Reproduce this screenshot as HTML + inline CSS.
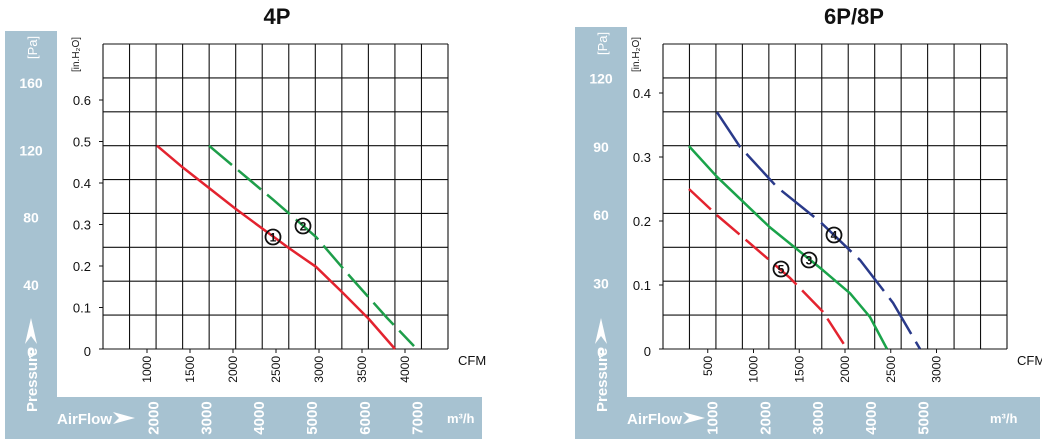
<!DOCTYPE html>
<html><head><meta charset="utf-8"><style>
body{margin:0;background:#fff;width:1042px;height:444px;overflow:hidden}
svg{display:block;font-family:"Liberation Sans",sans-serif}
</style></head><body>
<svg id="c" width="1042" height="444" viewBox="0 0 1042 444"></svg>
<script>
// ---- 4P chart data ----
const p4Curve1Cfm = [1116, 1419, 2035, 2651, 2965, 3279, 3581, 3884];
const p4Curve1In  = [0.49, 0.437, 0.337, 0.243, 0.198, 0.135, 0.072, 0];
const p4Curve2Cfm = [1721, 2465, 2965, 3360, 3791, 4105];
const p4Curve2In  = [0.49, 0.36, 0.27, 0.175, 0.075, 0.007];
const p4InTicks = ["0", "0.1", "0.2", "0.3", "0.4", "0.5", "0.6"];
const p4PaTicks = ["0", "40", "80", "120", "160"];
const p4CfmTicks = ["1000", "1500", "2000", "2500", "3000", "3500", "4000"];
const p4M3hTicks = ["2000", "3000", "4000", "5000", "6000", "7000"];
// ---- 6P/8P chart data ----
const p6Curve4Cfm = [601, 852, 1257, 1727, 2164, 2525, 2820];
const p6Curve4In  = [0.37, 0.316, 0.253, 0.199, 0.139, 0.072, 0];
const p6Curve3Cfm = [295, 601, 1180, 1760, 2055, 2273, 2459];
const p6Curve3In  = [0.317, 0.269, 0.19, 0.123, 0.087, 0.05, 0];
const p6Curve5Cfm = [295, 601, 962, 1399, 1760, 2022];
const p6Curve5In  = [0.25, 0.209, 0.165, 0.111, 0.058, 0];
const p6InTicks = ["0", "0.1", "0.2", "0.3", "0.4"];
const p6PaTicks = ["0", "30", "60", "90", "120"];
const p6CfmTicks = ["500", "1000", "1500", "2000", "2500", "3000"];
const p6M3hTicks = ["1000", "2000", "3000", "4000", "5000"];

const NS = "http://www.w3.org/2000/svg";
const svg = document.getElementById("c");
function mk(tag, attrs, parent, text){
  const e = document.createElementNS(NS, tag);
  for (const k in attrs) e.setAttribute(k, attrs[k]);
  if (text !== undefined) e.textContent = text;
  (parent || svg).appendChild(e);
  return e;
}
const BLUE = "#a7c2d1";

function chart(cfg){
  const g = mk("g", {});
  
  
  const t = mk("text", {x: cfg.titleX, y: 24, "font-size": 22, "font-weight": "bold", "text-anchor": "middle", fill: "#111"}, g, cfg.title);
  
  
  const pl = mk("rect", {x: cfg.panelX, y: cfg.panelTop, width: 52, height: 439 - cfg.panelTop, fill: BLUE}, g);
  
  
  const pb = mk("rect", {x: cfg.panelX, y: 397, width: cfg.bandRight - cfg.panelX, height: 42, fill: BLUE}, g);
  
  
  const L = cfg.boxL, R = cfg.boxR, T = 44, B = 349;
  const grid = mk("g", {stroke: "#111", "stroke-width": 1.1, fill: "none"}, g);
  
  
  for (let i = 0; i <= 13; i++){ const x = L + (R - L) * i / 13; mk("line", {x1: x, y1: T, x2: x, y2: B}, grid); }
  for (let j = 0; j <= 9; j++){ const y = T + (B - T) * j / 9; mk("line", {x1: L, y1: y, x2: R, y2: y}, grid); }
  const X = v => cfg.x0 + v * cfg.xk;
  const Y = v => B - v * cfg.yk;
  cfg.inTicks.forEach(s => {
    const y = Y(parseFloat(s));
    mk("line", {x1: L - 4, y1: y, x2: L, y2: y, stroke: "#111"}, g);
    const e = mk("text", {x: L - 12, y: y + (s === "0" ? 7 : 5), "font-size": 13, "text-anchor": "end", fill: "#111"}, g, s);
    
    
  });
  cfg.paTicks.forEach(s => {
    const y = B + 3 - parseFloat(s) * cfg.paK;
    const e = mk("text", {x: cfg.panelX + 26, y: y + 5, "font-size": 14, "font-weight": "bold", "text-anchor": "middle", fill: "#fff"}, g, s);
    
    
  });
  cfg.cfmTicks.forEach(s => {
    const x = X(parseFloat(s));
    mk("line", {x1: x, y1: B, x2: x, y2: B + 4, stroke: "#111"}, g);
    const e = mk("text", {x: 0, y: 0, "font-size": 12, "text-anchor": "end", fill: "#111", transform: `translate(${x + 4},356) rotate(-90)`}, g, s);
    
    
  });
  cfg.m3hTicks.forEach(s => {
    const x = cfg.m0 + parseFloat(s) * cfg.mk;
    const e = mk("text", {x: 0, y: 0, "font-size": 15, "font-weight": "bold", "text-anchor": "middle", fill: "#fff", transform: `translate(${x + 5},418) rotate(-90)`}, g, s);
    
    
  });
  const a1 = mk("text", {x: R + 10, y: 365, "font-size": 13, fill: "#111"}, g, "CFM");
   
  const a2 = mk("text", {x: cfg.m3hLabelX, y: 423, "font-size": 13, "font-weight": "bold", fill: "#fff"}, g, "m³/h");
   
  const a3 = mk("text", {x: cfg.panelX + 52, y: 424, "font-size": 15, "font-weight": "bold", fill: "#fff"}, g, "AirFlow");
   
  const a4 = mk("path", {d: `M${cfg.panelX+108} 412 L${cfg.panelX+130} 418 L${cfg.panelX+108} 424 L${cfg.panelX+114} 418 Z`, fill: "#fff"}, g);
   
  const a5 = mk("text", {x: 0, y: 0, "font-size": 15, "font-weight": "bold", fill: "#fff", transform: `translate(${cfg.panelX+32},412) rotate(-90)`}, g, "Pressure");
   
  const a6 = mk("path", {d: `M${cfg.panelX+20} 344 L${cfg.panelX+26} 318 L${cfg.panelX+32} 344 L${cfg.panelX+26} 336 Z`, fill: "#fff"}, g);
   
  const a7 = mk("text", {x: 0, y: 0, "font-size": 13, fill: "#fff", transform: `translate(${cfg.panelX+32},${cfg.panelTop+28}) rotate(-90)`}, g, "[Pa]");
   
  const a8 = mk("text", {x: 0, y: 0, "font-size": 10, fill: "#111", transform: `translate(${L - 24},72) rotate(-90)`}, g, "[in.H₂O]");
   
  cfg.curves.forEach(c => {
    const pts = c.cfm.map((v, i) => X(v) + "," + Y(c.inh[i])).join(" ");
    const attrs = {points: pts, fill: "none", stroke: c.color, "stroke-width": 2.5, "stroke-linejoin": "round"};
    if (c.dash) attrs["stroke-dasharray"] = c.dash;
    const p = mk("polyline", attrs, g);
    
    
    const lb = mk("g", {}, g);
    
    
    mk("circle", {cx: c.lx, cy: c.ly, r: 7.5, fill: "none", stroke: "#111", "stroke-width": 1.8}, lb);
    mk("text", {x: c.lx, y: c.ly + 4.5, "font-size": 12, "font-weight": "bold", "text-anchor": "middle", fill: "#111"}, lb, c.num);
  });
}

chart({name: "chart-4p", title: "4P", titleX: 277, panelX: 5, panelTop: 31, bandRight: 482,
  boxL: 103, boxR: 448, x0: 61, xk: 0.086, yk: 415, paK: 1.68, m0: 48, mk: 0.0528, m3hLabelX: 447,
  inTicks: p4InTicks, paTicks: p4PaTicks, cfmTicks: p4CfmTicks, m3hTicks: p4M3hTicks,
  curves: [
    {name: "curve-1", cfm: p4Curve1Cfm, inh: p4Curve1In, color: "#e3232f", num: "1", lx: 273, ly: 237},
    {name: "curve-2", cfm: p4Curve2Cfm, inh: p4Curve2In, color: "#1e9e4a", dash: "30 8", num: "2", lx: 303, ly: 226}
  ]});
chart({name: "chart-6p-8p", title: "6P/8P", titleX: 854, panelX: 575, panelTop: 27, bandRight: 1040,
  boxL: 663, boxR: 1007, x0: 662, xk: 0.0915, yk: 640, paK: 2.28, m0: 660, mk: 0.0527, m3hLabelX: 990,
  inTicks: p6InTicks, paTicks: p6PaTicks, cfmTicks: p6CfmTicks, m3hTicks: p6M3hTicks,
  curves: [
    {name: "curve-4", cfm: p6Curve4Cfm, inh: p6Curve4In, color: "#2a3a8a", dash: "42 9", num: "4", lx: 834, ly: 235},
    {name: "curve-3", cfm: p6Curve3Cfm, inh: p6Curve3In, color: "#1aa34a", num: "3", lx: 809, ly: 260},
    {name: "curve-5", cfm: p6Curve5Cfm, inh: p6Curve5In, color: "#e3232f", dash: "30 8", num: "5", lx: 781, ly: 269}
  ]});
</script>
</body></html>
